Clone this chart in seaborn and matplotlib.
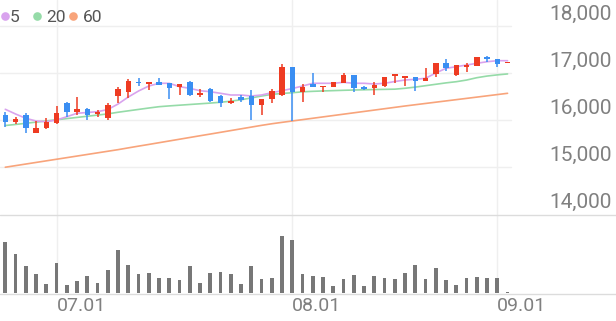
import numpy as np
import pandas as pd
import seaborn as sns
import matplotlib
matplotlib.use("Agg")
import matplotlib.pyplot as plt
from matplotlib import transforms

# ---------------- data ----------------
opens = [16106, 15963, 16106, 15730, 15823, 15942, 16355, 16176, 16227, 16128,
         16036, 16510, 16602, 16815, 16766, 16815, 16781, 16709, 16815, 16531,
         16653, 16510, 16368, 16483, 16510, 16319, 16440, 16531, 17121, 16602,
         16766, 16695, 16709, 16781, 16957, 16695, 16674, 16723, 16936, 16900,
         16908, 16836, 16979, 17206, 16957, 17135, 17150, 17347, 17291, 17206]
closes = [15957, 16015, 15823, 15836, 15963, 16155, 16176, 16227, 16106, 16176,
          16319, 16653, 16836, 16781, 16794, 16745, 16674, 16759, 16531, 16568,
          16410, 16368, 16410, 16425, 16319, 16440, 16623, 17121, 16602, 16709,
          16709, 16723, 16802, 16957, 16674, 16653, 16745, 16908, 16957, 16921,
          16836, 16900, 17206, 17100, 17170, 17170, 17334, 17291, 17191, 17240]
highs = [16170, 16070, 16149, 15985, 16036, 16298, 16389, 16483, 16249, 16212,
         16368, 16709, 16866, 16887, 16794, 16887, 16781, 16759, 16836, 16653,
         16674, 16531, 16461, 16531, 16638, 16440, 16653, 17191, 17121, 16766,
         16993, 16723, 16815, 16993, 16957, 16723, 16815, 16921, 16957, 16921,
         16908, 17100, 17206, 17291, 17170, 17220, 17347, 17362, 17291, 17240]
lows = [15851, 15915, 15730, 15723, 15800, 15915, 16070, 16106, 16000, 16057,
        16000, 16355, 16461, 16723, 16638, 16745, 16440, 16531, 16510, 16495,
        16389, 16270, 16340, 16389, 16000, 16106, 16368, 16510, 15985, 16389,
        16709, 16602, 16695, 16781, 16602, 16638, 16531, 16709, 16794, 16730,
        16623, 16836, 16908, 17050, 16936, 17028, 17150, 17240, 17134, 17206]
volumes = [510, 393, 273, 196, 90, 300, 86, 126, 170, 100,
           233, 436, 283, 193, 200, 153, 153, 130, 273, 100,
           206, 210, 196, 96, 270, 140, 150, 576, 533, 193,
           173, 160, 76, 143, 180, 70, 176, 150, 143, 206,
           286, 140, 256, 133, 83, 153, 160, 150, 153, 10]
volumes = [v * 1000 for v in volumes]
ma5 = [16228, 16128, 16036, 15979, 15964, 16000, 16070, 16143, 16160, 16177,
       16223, 16340, 16489, 16617, 16723, 16781, 16781, 16709, 16674, 16623,
       16602, 16568, 16532, 16532, 16511, 16532, 16581, 16623, 16670, 16723,
       16781, 16781, 16781, 16802, 16781, 16781, 16766, 16781, 16819, 16851,
       16866, 16887, 17000, 17100, 17134, 17170, 17206, 17240, 17262, 17262]
ma20 = [15883, 15905, 15930, 15955, 15980, 16005, 16030, 16055, 16080, 16105,
        16130, 16165, 16195, 16225, 16255, 16283, 16300, 16315, 16330, 16345,
        16360, 16378, 16400, 16430, 16470, 16510, 16545, 16565, 16580, 16600,
        16610, 16618, 16625, 16632, 16638, 16643, 16648, 16652, 16656, 16675,
        16700, 16730, 16760, 16790, 16815, 16850, 16900, 16935, 16960, 16980]
ma60 = [14995, 15029, 15063, 15097, 15131, 15165, 15199, 15233, 15267, 15301,
        15335, 15369, 15407, 15444, 15480, 15517, 15554, 15591, 15628, 15665,
        15701, 15738, 15775, 15812, 15849, 15886, 15920, 15950, 15979, 16008,
        16037, 16066, 16095, 16124, 16153, 16182, 16211, 16240, 16269, 16298,
        16325, 16352, 16379, 16406, 16433, 16460, 16487, 16514, 16541, 16568]
date_idx = [5, 28, 48]
date_labels = ["07.01", "08.01", "09.01"]
price_ticks = [14000, 15000, 16000, 17000, 18000]
legend_labels = ["5", "20", "60"]

# ---------------- style ----------------
RED = "#ee3b22"
BLUE = "#3a8ef2"
C5, C20, C60 = "#d9a3ee", "#95dba8", "#f8a47b"
GRID = "#efefef"
SEP = "#dcdcdc"

sns.set_theme(style="white")
plt.rcParams["font.family"] = ["Roboto", "DejaVu Sans"]

W, H = 616, 321
fig = plt.figure(figsize=(W / 100, H / 100), dpi=100)


def fy(y):
    return 1 - y / H


x0px, step = 5.3, 10.25
xlim = (-x0px / step, (W - x0px) / step)
grid_right = (511 - x0px) / step

ax = fig.add_axes([0, fy(214), 1, 214 / H])
axv = fig.add_axes([0, fy(293.3), 1, (293.3 - 214) / H])

idx = np.arange(len(closes))
df = pd.DataFrame({"i": idx, "open": opens, "close": closes, "high": highs,
                   "low": lows, "vol": volumes, "ma5": ma5, "ma20": ma20, "ma60": ma60})

# price panel
px_per_1000 = (214 - 26) / 4
ax.set_ylim(14000, 18000 + 26 / px_per_1000 * 1000)
ax.set_xlim(*xlim)
for v in price_ticks[1:]:
    ax.plot([xlim[0], grid_right], [v, v], color=GRID, lw=1, zorder=0)
for d in date_idx:
    ax.axvline(d, color=GRID, lw=1, zorder=0)
    axv.axvline(d, color=GRID, lw=1, zorder=0)

sns.lineplot(data=df, x="i", y="ma60", ax=ax, color=C60, lw=1.2, zorder=2)
sns.lineplot(data=df, x="i", y="ma20", ax=ax, color=C20, lw=1.2, zorder=2)
sns.lineplot(data=df, x="i", y="ma5", ax=ax, color=C5, lw=1.2, zorder=2)

min_body = 1.6 * 1000 / px_per_1000
for i, o, c, h, l in zip(idx, opens, closes, highs, lows):
    col = RED if c >= o else BLUE
    ax.vlines(i, l, h, color=col, lw=1.1, zorder=3)
    ax.bar(i, max(abs(c - o), min_body), bottom=min(o, c), width=0.54,
           color=col, zorder=4, linewidth=0)

# price labels
tr = transforms.blended_transform_factory(ax.transAxes, ax.transData)
tr = transforms.offset_copy(tr, fig=fig, y=6.3, units="dots")
for v in price_ticks:
    ax.text(612 / W, v, f"{v:,}", transform=tr, ha="right", va="baseline",
            fontsize=15, color="#808080", clip_on=False)

# volume panel
sns.barplot(data=df, x="i", y="vol", ax=axv, color="#777777", width=0.38,
            saturation=1, linewidth=0)
axv.set_xlim(*xlim)
axv.set_ylim(0, max(volumes) * 79.3 / 57.6)
axv.set_xticks(date_idx)
axv.set_xticklabels(date_labels, ha="left", fontsize=14, color="#808080")
axv.tick_params(axis="x", length=0, pad=3)
axv.set_yticks([])
axv.set_xlabel("")
axv.set_ylabel("")

for a in (ax, axv):
    for s in a.spines.values():
        s.set_visible(False)
    a.set_facecolor("none")
ax.set_xticks([])
ax.set_yticks([])
ax.set_xlabel("")
ax.set_ylabel("")

# separators
fig.add_artist(plt.Line2D([0, 1], [fy(214.5), fy(214.5)], color=SEP, lw=1))
fig.add_artist(plt.Line2D([0, 1], [fy(293.8), fy(293.8)], color=SEP, lw=1))

# legend
dot_x = [5, 37, 73.3]
txt_x = [10, 46.7, 83.3]
for lab, col, dx, tx in zip(legend_labels, [C5, C20, C60], dot_x, txt_x):
    fig.add_artist(plt.Line2D([dx / W], [fy(15.7)], marker="o", markersize=6.2,
                              color=col, markeredgewidth=0, linestyle="none"))
    fig.text(tx / W, fy(21.7), lab, ha="left", va="baseline", fontsize=12.5,
             color="#555555")

fig.savefig("out.png", dpi=100)
